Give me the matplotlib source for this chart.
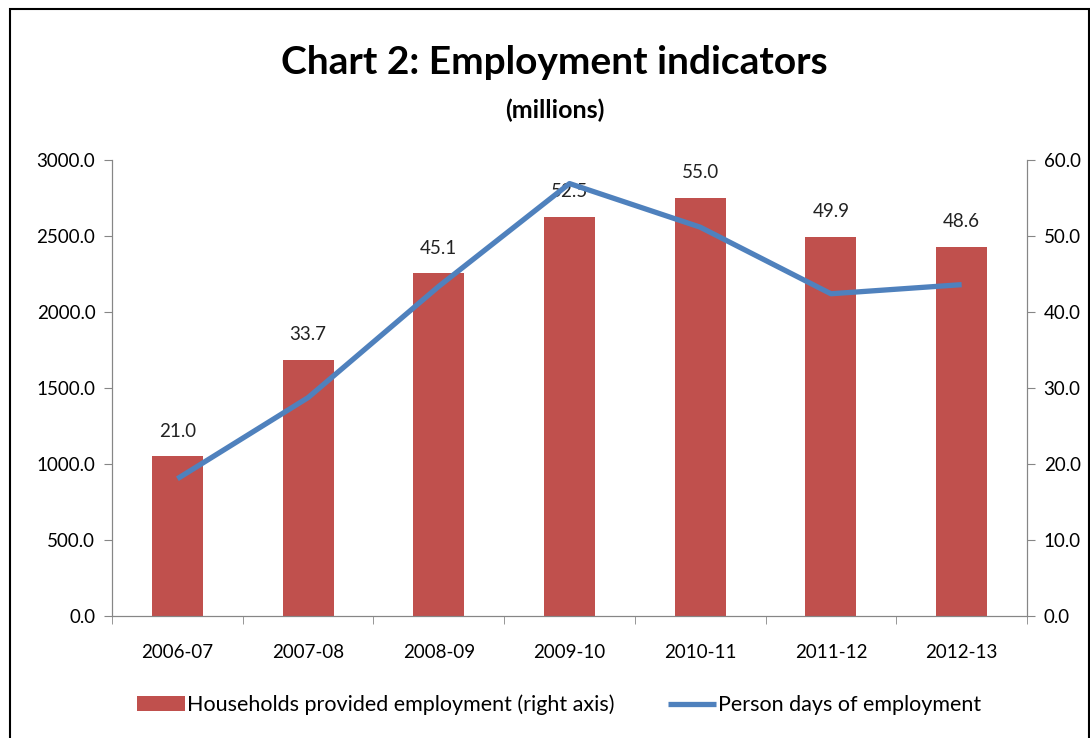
import numpy as np
import matplotlib.pyplot as plt
from matplotlib.patches import Rectangle

years = ["2006-07", "2007-08", "2008-09", "2009-10", "2010-11", "2011-12", "2012-13"]
households = [21.0, 33.7, 45.1, 52.5, 55.0, 49.9, 48.6]
person_days = [903, 1437, 2169, 2845, 2558, 2120, 2180]

plt.rcParams['font.family'] = ['Lato', 'DejaVu Sans']

fig = plt.figure(figsize=(10.9, 7.38), dpi=100)
ax = fig.add_axes([0.1028, 0.1653, 0.8394, 0.6179])
ax2 = ax.twinx()

x = np.arange(len(years))
bars = ax2.bar(x, households, width=0.39, color="#C0504D", zorder=1,
               label="Households provided employment (right axis)")
for xi, v in zip(x, households):
    ax2.text(xi, v + 2.2, f"{v:.1f}", ha="center", va="bottom", fontsize=13.5, color="#222222")
ax2.set_ylim(0, 60)
ax2.set_yticks(np.arange(0, 61, 10))
ax2.set_yticklabels([f"{t:.1f}" for t in np.arange(0, 61, 10)])

# line on left axis, drawn above bars
ax.set_zorder(ax2.get_zorder() + 1)
ax.patch.set_visible(False)
line, = ax.plot(x, person_days, color="#4F81BD", lw=3.8, solid_capstyle="butt",
                label="Person days of employment")
ax.set_ylim(0, 3000)
ax.set_yticks(np.arange(0, 3001, 500))
ax.set_yticklabels([f"{t:.1f}" for t in np.arange(0, 3001, 500)])
ax.set_xlim(-0.5, len(years) - 0.5)
ax.set_xticks(x)
ax.set_xticklabels(years)
ax.set_xticks(np.arange(-0.5, len(years), 1), minor=True)
ax.tick_params(axis="x", which="major", length=0, pad=20, labelsize=13.5)
ax.tick_params(axis="x", which="minor", length=6, color="#868686")
ax.tick_params(axis="y", length=6, color="#868686", labelsize=13.5, pad=6)
ax2.tick_params(axis="y", length=6, color="#868686", labelsize=13.5, pad=6)

for a in (ax, ax2):
    a.spines["top"].set_visible(False)
    for s in ("left", "right", "bottom"):
        a.spines[s].set_color("#868686")

fig.text(0.509, 0.915, "Chart 2: Employment indicators", ha="center", va="center",
         fontsize=28, fontweight="bold")
fig.text(0.509, 0.85, "(millions)", ha="center", va="center", fontsize=18, fontweight="bold")

fig.legend([bars, line], [bars.get_label(), line.get_label()], loc="center",
           bbox_to_anchor=(0.513, 0.045), ncol=2, frameon=False, fontsize=15.5,
           handlelength=2.2, handletextpad=0.1, columnspacing=2.5)

fig.patches.append(Rectangle((0.009, -0.01), 0.99, 0.998, transform=fig.transFigure,
                             fill=False, edgecolor="black", lw=1.5))

fig.savefig("out.png", dpi=100)
